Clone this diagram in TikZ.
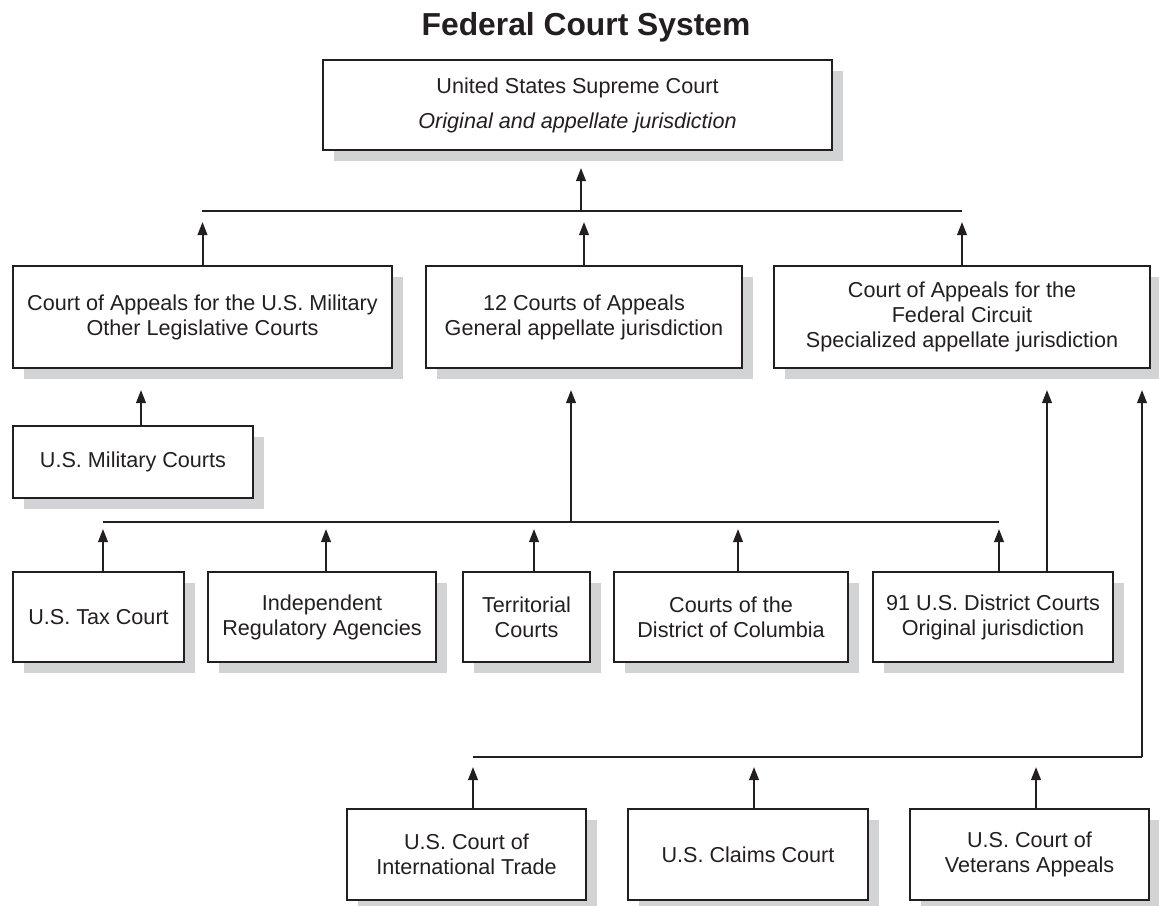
\documentclass[tikz,border=0pt]{standalone}
\usepackage{fontspec}
\setmainfont{Liberation Sans}
\usetikzlibrary{arrows.meta,shadows}
\definecolor{ink}{HTML}{231F20}
\definecolor{shade}{HTML}{D1D3D4}
\begin{document}
\begin{tikzpicture}[x=0.5pt,y=-0.5pt,
  box/.style={draw=ink, line width=1pt, fill=white, inner sep=0pt, align=center, text=ink,
    font=\fontsize{10.8}{12.5}\selectfont,
    drop shadow={shadow xshift=5.25pt, shadow yshift=-5.5pt, fill=shade, opacity=1}},
  bar/.style={draw=ink, line width=1pt},
  arr/.style={draw=ink, line width=1pt, -{Triangle[length=6.5pt,width=4.8pt]}}]
\useasboundingbox (0,0) rectangle (1159,905);

% title
\node[font=\fontsize{15.9}{19}\selectfont\bfseries, text=ink, anchor=base] (title) at (586,35) {Federal Court System};

% boxes
\node[box, minimum width=254.5pt, minimum height=45pt, font=\fontsize{10.8}{17.5}\selectfont] (sup) at (577.5,105)
  {United States Supreme Court\\\textit{Original and appellate jurisdiction}};

\node[box, minimum width=189.5pt, minimum height=51pt] (a) at (202.5,317)
  {Court of Appeals for the U.S. Military\\Other Legislative Courts};
\node[box, minimum width=158pt, minimum height=51pt] (b) at (584,317)
  {12 Courts of Appeals\\General appellate jurisdiction};
\node[box, minimum width=188pt, minimum height=51pt] (c) at (962,317)
  {Court of Appeals for the\\Federal Circuit\\Specialized appellate jurisdiction};

\node[box, minimum width=120pt, minimum height=36pt] (mil) at (133,462) {U.S. Military Courts};

\node[box, minimum width=85.5pt, minimum height=45pt] (tax) at (98.5,617) {U.S. Tax Court};
\node[box, minimum width=114pt, minimum height=45pt] (ind) at (322,617) {Independent\\Regulatory Agencies};
\node[box, minimum width=63.5pt, minimum height=45pt] (ter) at (526.5,617) {Territorial\\Courts};
\node[box, minimum width=117pt, minimum height=45pt] (dc) at (731,617) {Courts of the\\District of Columbia};
\node[box, minimum width=120pt, minimum height=45pt] (dist) at (993,617) {91 U.S. District Courts\\Original jurisdiction};

\node[box, minimum width=119.5pt, minimum height=45.5pt] (cit) at (466.5,854.5) {U.S. Court of\\International Trade};
\node[box, minimum width=120pt, minimum height=45.5pt] (clm) at (748,854.5) {U.S. Claims Court};
\node[box, minimum width=119.5pt, minimum height=45.5pt] (vet) at (1029.5,854.5) {U.S. Court of\\Veterans Appeals};

% top bar
\coordinate (tbL) at (202,211);
\coordinate (tbS) at (581,211);
\coordinate (tbR) at (962,211);
\draw[bar] (tbL) -- (tbR);
\draw[arr, shorten >=8.5pt] (tbS) -- (tbS |- sup.south);
\draw[arr, shorten >=5.5pt] (a.north) -- (a.north |- tbL);
\draw[arr, shorten >=5.5pt] (b.north) -- (b.north |- tbL);
\draw[arr, shorten >=5.5pt] (c.north) -- (c.north |- tbL);

% military
\coordinate (milx) at (141,426);
\draw[arr, shorten >=10.5pt] (milx) -- (milx |- a.south);

% middle bar
\coordinate (mbL) at (103,522);
\coordinate (mb2) at (326,522);
\coordinate (mb3) at (534,522);
\coordinate (mb4) at (738,522);
\coordinate (mbR) at (999,522);
\coordinate (mbS) at (571,522);
\draw[bar] (mbL) -- (mbR);
\draw[arr, shorten >=10.5pt] (mbS) -- (mbS |- b.south);
\draw[arr, shorten >=3.5pt] (tax.north -| mbL) -- (mbL);
\draw[arr, shorten >=3.5pt] (ind.north -| mb2) -- (mb2);
\draw[arr, shorten >=3.5pt] (ter.north -| mb3) -- (mb3);
\draw[arr, shorten >=3.5pt] (dc.north -| mb4) -- (mb4);
\draw[arr, shorten >=3.5pt] (dist.north -| mbR) -- (mbR);

% district to federal circuit
\coordinate (dfx) at (1047,572);
\draw[arr, shorten >=10.5pt] (dist.north -| dfx) -- (dfx |- c.south);

% bottom bar
\coordinate (bbL) at (473,757);
\coordinate (bb2) at (754,757);
\coordinate (bb3) at (1036,757);
\coordinate (bbR) at (1142,757);
\draw[bar] (bbL) -- (bbR);
\draw[arr, shorten >=10.5pt] (bbR) -- (bbR |- c.south);
\draw[arr, shorten >=5pt] (cit.north -| bbL) -- (bbL);
\draw[arr, shorten >=5pt] (clm.north -| bb2) -- (bb2);
\draw[arr, shorten >=5pt] (vet.north -| bb3) -- (bb3);
\end{tikzpicture}
\end{document}
